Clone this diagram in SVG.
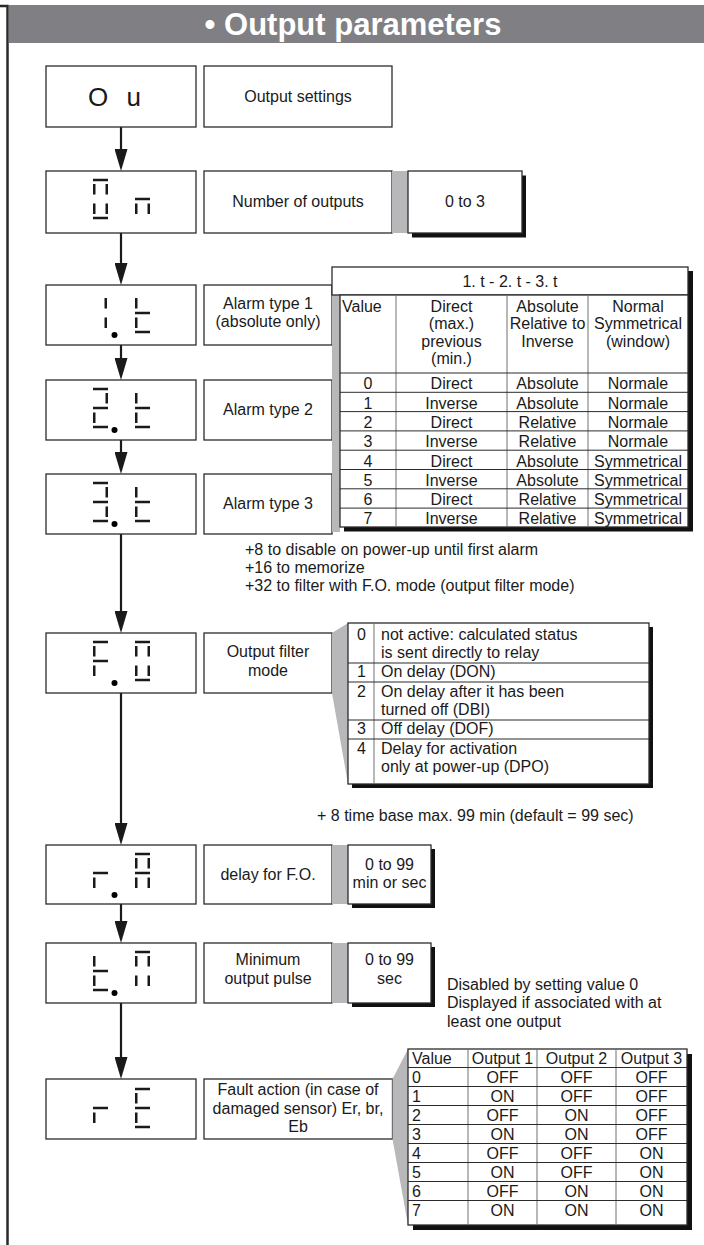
<svg xmlns="http://www.w3.org/2000/svg" xmlns:xlink="http://www.w3.org/1999/xlink" width="704" height="1245" viewBox="0 0 704 1245">
  <style>
    text { font-family: "Liberation Sans", Arial, Helvetica, sans-serif; font-size: 16px; fill: #1a1a1a; }
    .c { text-anchor: middle; }
    .title { font-size: 31px; font-weight: bold; fill: #ffffff; }
    .code { font-size: 26px; }
    .box { fill: #ffffff; stroke: #2b2b2b; stroke-width: 1.3; }
    .shadow { fill: #111111; }
    .gray { fill: #b8b8bb; }
    .rule { stroke: #2b2b2b; stroke-width: 1; }
    .col { stroke: #707070; stroke-width: 1; }
    .seg { fill: #1a1a1a; }
    .conn { stroke: #1a1a1a; stroke-width: 2.2; fill: none; }
  </style>
  <defs>
    <marker id="arrowhead" markerUnits="userSpaceOnUse" markerWidth="22" markerHeight="13" refX="12" refY="6.5" orient="auto">
      <path d="M0,0 L22,6.5 L0,13 Z" fill="#1a1a1a"/>
    </marker>
    <!-- seven-segment display: single segments (top edge of the digit at y=0) -->
    <rect id="sa" class="seg" x="0" y="-1.25" width="15" height="2.5"/>
    <rect id="sg" class="seg" x="0" y="17.75" width="15" height="2.5"/>
    <rect id="sd" class="seg" x="0" y="36.75" width="15" height="2.5"/>
    <rect id="sf" class="seg" x="0" y="4" width="2.5" height="10.5"/>
    <rect id="se" class="seg" x="0" y="23.5" width="2.5" height="10.5"/>
    <rect id="sb" class="seg" x="12.5" y="4" width="2.5" height="10.5"/>
    <rect id="sc" class="seg" x="12.5" y="23.5" width="2.5" height="10.5"/>
    <!-- digit combinations -->
    <g id="lcd-O"><use xlink:href="#sa"/><use xlink:href="#sb"/><use xlink:href="#sc"/><use xlink:href="#sd"/><use xlink:href="#se"/><use xlink:href="#sf"/></g>
    <g id="lcd-n"><use xlink:href="#sg"/><use xlink:href="#se"/><use xlink:href="#sc"/></g>
    <g id="lcd-1"><use xlink:href="#sb"/><use xlink:href="#sc"/></g>
    <g id="lcd-t"><use xlink:href="#sf"/><use xlink:href="#sg"/><use xlink:href="#se"/><use xlink:href="#sd"/></g>
    <g id="lcd-2"><use xlink:href="#sa"/><use xlink:href="#sb"/><use xlink:href="#sg"/><use xlink:href="#se"/><use xlink:href="#sd"/></g>
    <g id="lcd-3"><use xlink:href="#sa"/><use xlink:href="#sb"/><use xlink:href="#sg"/><use xlink:href="#sc"/><use xlink:href="#sd"/></g>
    <g id="lcd-F"><use xlink:href="#sa"/><use xlink:href="#sf"/><use xlink:href="#sg"/><use xlink:href="#se"/></g>
    <g id="lcd-r"><use xlink:href="#sg"/><use xlink:href="#se"/></g>
    <g id="lcd-A"><use xlink:href="#sa"/><use xlink:href="#sb"/><use xlink:href="#sc"/><use xlink:href="#se"/><use xlink:href="#sf"/><use xlink:href="#sg"/></g>
    <g id="lcd-M"><use xlink:href="#sa"/><use xlink:href="#sb"/><use xlink:href="#sc"/><use xlink:href="#se"/><use xlink:href="#sf"/></g>
    <g id="lcd-E"><use xlink:href="#sa"/><use xlink:href="#sf"/><use xlink:href="#sg"/><use xlink:href="#se"/><use xlink:href="#sd"/></g>
  </defs>

  <rect width="704" height="1245" fill="#ffffff"/>

  <!-- page frame and heading band -->
  <g id="frame">
    <path d="M0,6 H7.5 V1245" fill="none" stroke="#2a2a2a" stroke-width="2.5"/>
    <rect x="9" y="5" width="695" height="38" fill="#808084"/>
    <text class="title c" x="353" y="35">• Output parameters</text>
  </g>

  <!-- connectors -->
  <g id="connectors">
    <line class="conn" x1="121" y1="127" x2="121" y2="161" marker-end="url(#arrowhead)"/>
    <line class="conn" x1="121" y1="233" x2="121" y2="275" marker-end="url(#arrowhead)"/>
    <line class="conn" x1="121" y1="345" x2="121" y2="370" marker-end="url(#arrowhead)"/>
    <line class="conn" x1="121" y1="440" x2="121" y2="464" marker-end="url(#arrowhead)"/>
    <line class="conn" x1="121" y1="534" x2="121" y2="623" marker-end="url(#arrowhead)"/>
    <line class="conn" x1="121" y1="693" x2="121" y2="835" marker-end="url(#arrowhead)"/>
    <line class="conn" x1="121" y1="904" x2="121" y2="933" marker-end="url(#arrowhead)"/>
    <line class="conn" x1="121" y1="1003" x2="121" y2="1069" marker-end="url(#arrowhead)"/>
  </g>

  <!-- Ou : output settings -->
  <g id="node-ou">
    <rect class="box" x="46" y="66" width="150" height="61"/>
    <text class="code" x="88" y="106" word-spacing="11">O u</text>
    <rect class="box" x="204" y="66" width="188" height="61"/>
    <text class="c" x="298" y="102">Output settings</text>
  </g>

  <!-- On : number of outputs -->
  <g id="node-on">
    <rect class="box" x="46" y="171" width="150" height="62"/>
    <use xlink:href="#lcd-O" x="93" y="180"/>
    <use xlink:href="#lcd-n" x="135" y="180"/>
    <rect class="box" x="204" y="171" width="188" height="62"/>
    <text class="c" x="298" y="207">Number of outputs</text>
    <rect class="gray" x="392" y="171" width="16" height="62"/>
    <rect class="shadow" x="412" y="175.5" width="114" height="62"/>
    <rect class="box" x="408" y="171" width="114" height="62"/>
    <text class="c" x="465" y="207">0 to 3</text>
  </g>

  <!-- 1.t : alarm type 1 -->
  <g id="node-1t">
    <rect class="box" x="46" y="285" width="150" height="60"/>
    <use xlink:href="#lcd-1" x="92" y="294"/>
    <circle cx="114.5" cy="335" r="3"/>
    <use xlink:href="#lcd-t" x="135" y="294"/>
    <rect class="box" x="204" y="285" width="128" height="60"/>
    <text class="c" x="268" y="309">Alarm type 1</text>
    <text class="c" x="268" y="327">(absolute only)</text>
  </g>

  <!-- 2.t : alarm type 2 -->
  <g id="node-2t">
    <rect class="box" x="46" y="380" width="150" height="60"/>
    <use xlink:href="#lcd-2" x="93" y="389"/>
    <circle cx="114.5" cy="430" r="3"/>
    <use xlink:href="#lcd-t" x="135" y="389"/>
    <rect class="box" x="204" y="380" width="128" height="60"/>
    <text class="c" x="268" y="415">Alarm type 2</text>
  </g>

  <!-- 3.t : alarm type 3 -->
  <g id="node-3t">
    <rect class="box" x="46" y="474" width="150" height="60"/>
    <use xlink:href="#lcd-3" x="93" y="483"/>
    <circle cx="114.5" cy="524" r="3"/>
    <use xlink:href="#lcd-t" x="135" y="483"/>
    <rect class="box" x="204" y="474" width="128" height="60"/>
    <text class="c" x="268" y="509">Alarm type 3</text>
  </g>

  <!-- alarm type value table -->
  <g id="table-alarm">
    <rect class="shadow" x="344" y="271" width="349" height="260.5"/>
    <rect class="gray" x="332" y="295" width="8" height="237"/>
    <rect class="box" x="332" y="267" width="356" height="28"/>
    <text class="c" x="510" y="287">1. t - 2. t - 3. t</text>
    <rect class="box" x="340" y="295" width="348" height="232"/>
    <line class="col" x1="396" y1="295" x2="396" y2="527"/>
    <line class="col" x1="507" y1="295" x2="507" y2="527"/>
    <line class="col" x1="588" y1="295" x2="588" y2="527"/>
    <line class="rule" x1="340" y1="373" x2="688" y2="373"/>
    <line class="rule" x1="340" y1="392.3" x2="688" y2="392.3"/>
    <line class="rule" x1="340" y1="411.6" x2="688" y2="411.6"/>
    <line class="rule" x1="340" y1="430.9" x2="688" y2="430.9"/>
    <line class="rule" x1="340" y1="450.2" x2="688" y2="450.2"/>
    <line class="rule" x1="340" y1="469.5" x2="688" y2="469.5"/>
    <line class="rule" x1="340" y1="488.8" x2="688" y2="488.8"/>
    <line class="rule" x1="340" y1="508.1" x2="688" y2="508.1"/>
    <text x="342" y="312">Value</text>
    <text class="c" x="451.5" y="312">Direct</text>
    <text class="c" x="451.5" y="329">(max.)</text>
    <text class="c" x="451.5" y="346.5">previous</text>
    <text class="c" x="451.5" y="364">(min.)</text>
    <text class="c" x="547.5" y="312">Absolute</text>
    <text class="c" x="547.5" y="329">Relative to</text>
    <text class="c" x="547.5" y="346.5">Inverse</text>
    <text class="c" x="638" y="312">Normal</text>
    <text class="c" x="638" y="329">Symmetrical</text>
    <text class="c" x="638" y="346.5">(window)</text>
    <g class="rows">
      <text class="c" x="368" y="389.3">0</text><text class="c" x="451.5" y="389.3">Direct</text><text class="c" x="547.5" y="389.3">Absolute</text><text class="c" x="638" y="389.3">Normale</text>
      <text class="c" x="368" y="408.6">1</text><text class="c" x="451.5" y="408.6">Inverse</text><text class="c" x="547.5" y="408.6">Absolute</text><text class="c" x="638" y="408.6">Normale</text>
      <text class="c" x="368" y="427.9">2</text><text class="c" x="451.5" y="427.9">Direct</text><text class="c" x="547.5" y="427.9">Relative</text><text class="c" x="638" y="427.9">Normale</text>
      <text class="c" x="368" y="447.2">3</text><text class="c" x="451.5" y="447.2">Inverse</text><text class="c" x="547.5" y="447.2">Relative</text><text class="c" x="638" y="447.2">Normale</text>
      <text class="c" x="368" y="466.5">4</text><text class="c" x="451.5" y="466.5">Direct</text><text class="c" x="547.5" y="466.5">Absolute</text><text class="c" x="638" y="466.5">Symmetrical</text>
      <text class="c" x="368" y="485.8">5</text><text class="c" x="451.5" y="485.8">Inverse</text><text class="c" x="547.5" y="485.8">Absolute</text><text class="c" x="638" y="485.8">Symmetrical</text>
      <text class="c" x="368" y="505.1">6</text><text class="c" x="451.5" y="505.1">Direct</text><text class="c" x="547.5" y="505.1">Relative</text><text class="c" x="638" y="505.1">Symmetrical</text>
      <text class="c" x="368" y="524.4">7</text><text class="c" x="451.5" y="524.4">Inverse</text><text class="c" x="547.5" y="524.4">Relative</text><text class="c" x="638" y="524.4">Symmetrical</text>
    </g>
  </g>

  <g id="note-alarm">
    <text x="245" y="555">+8 to disable on power-up until first alarm</text>
    <text x="245" y="573">+16 to memorize</text>
    <text x="245" y="591">+32 to filter with F.O. mode (output filter mode)</text>
  </g>

  <!-- F.O : output filter mode -->
  <g id="node-fo">
    <rect class="box" x="46" y="633" width="150" height="60"/>
    <use xlink:href="#lcd-F" x="93" y="642"/>
    <circle cx="114.5" cy="683" r="3"/>
    <use xlink:href="#lcd-O" x="135" y="642"/>
    <rect class="box" x="204" y="633" width="128" height="60"/>
    <text class="c" x="268" y="657">Output filter</text>
    <text class="c" x="268" y="676">mode</text>
  </g>

  <g id="table-filter">
    <polygon class="gray" points="332,633 348,623 348,784 332,693"/>
    <rect class="shadow" x="352" y="627" width="301" height="161"/>
    <rect class="box" x="348" y="623" width="301" height="161"/>
    <line class="col" x1="374" y1="623" x2="374" y2="784"/>
    <line class="rule" x1="348" y1="663" x2="649" y2="663"/>
    <line class="rule" x1="348" y1="682" x2="649" y2="682"/>
    <line class="rule" x1="348" y1="720" x2="649" y2="720"/>
    <line class="rule" x1="348" y1="739" x2="649" y2="739"/>
    <text class="c" x="361.5" y="640">0</text>
    <text x="381" y="640">not active: calculated status</text>
    <text x="381" y="658">is sent directly to relay</text>
    <text class="c" x="361.5" y="677">1</text>
    <text x="381" y="677">On delay (DON)</text>
    <text class="c" x="361.5" y="697">2</text>
    <text x="381" y="697">On delay after it has been</text>
    <text x="381" y="715">turned off (DBI)</text>
    <text class="c" x="361.5" y="734">3</text>
    <text x="381" y="734">Off delay (DOF)</text>
    <text class="c" x="361.5" y="754">4</text>
    <text x="381" y="754">Delay for activation</text>
    <text x="381" y="772">only at power-up (DPO)</text>
  </g>

  <g id="note-filter">
    <text x="317" y="821">+ 8 time base max. 99 min (default = 99 sec)</text>
  </g>

  <!-- r.A : delay for F.O. -->
  <g id="node-ra">
    <rect class="box" x="46" y="845" width="150" height="59"/>
    <use xlink:href="#lcd-r" x="93" y="854"/>
    <circle cx="114.5" cy="895" r="3"/>
    <use xlink:href="#lcd-A" x="135" y="854"/>
    <rect class="box" x="204" y="845" width="128" height="59"/>
    <text class="c" x="268" y="880">delay for F.O.</text>
    <rect class="gray" x="332" y="845" width="16" height="59"/>
    <rect class="shadow" x="352" y="849" width="83" height="59"/>
    <rect class="box" x="348" y="845" width="83" height="59"/>
    <text class="c" x="389.5" y="870">0 to 99</text>
    <text class="c" x="389.5" y="888">min or sec</text>
  </g>

  <!-- t.M : minimum output pulse -->
  <g id="node-tm">
    <rect class="box" x="46" y="943" width="150" height="60"/>
    <use xlink:href="#lcd-t" x="93" y="952"/>
    <circle cx="114.5" cy="993" r="3"/>
    <use xlink:href="#lcd-M" x="135" y="952"/>
    <rect class="box" x="204" y="943" width="128" height="60"/>
    <text class="c" x="268" y="965">Minimum</text>
    <text class="c" x="268" y="984">output pulse</text>
    <rect class="gray" x="332" y="943" width="16" height="60"/>
    <rect class="shadow" x="352" y="947" width="83" height="60"/>
    <rect class="box" x="348" y="943" width="83" height="60"/>
    <text class="c" x="389.5" y="965">0 to 99</text>
    <text class="c" x="389.5" y="984">sec</text>
  </g>

  <g id="note-pulse">
    <text x="447" y="990">Disabled by setting value 0</text>
    <text x="447" y="1008">Displayed if associated with at</text>
    <text x="447" y="1027">least one output</text>
  </g>

  <!-- rE : fault action -->
  <g id="node-re">
    <rect class="box" x="46" y="1079" width="150" height="60"/>
    <use xlink:href="#lcd-r" x="93" y="1089"/>
    <use xlink:href="#lcd-E" x="135" y="1089"/>
    <rect class="box" x="204" y="1079" width="188.5" height="60"/>
    <text class="c" x="298" y="1095">Fault action (in case of</text>
    <text class="c" x="298" y="1114">damaged sensor) Er, br,</text>
    <text class="c" x="298" y="1132">Eb</text>
  </g>

  <g id="table-fault">
    <polygon class="gray" points="392.5,1079 408,1049 408,1225 392.5,1139"/>
    <rect class="shadow" x="413" y="1054" width="279" height="176"/>
    <rect class="box" x="408" y="1049" width="279" height="176"/>
    <line class="col" x1="468" y1="1049" x2="468" y2="1225"/>
    <line class="col" x1="537" y1="1049" x2="537" y2="1225"/>
    <line class="col" x1="616" y1="1049" x2="616" y2="1225"/>
    <line class="rule" x1="408" y1="1067.5" x2="687" y2="1067.5"/>
    <line class="rule" x1="408" y1="1086.5" x2="687" y2="1086.5"/>
    <line class="rule" x1="408" y1="1105.5" x2="687" y2="1105.5"/>
    <line class="rule" x1="408" y1="1124.5" x2="687" y2="1124.5"/>
    <line class="rule" x1="408" y1="1143.5" x2="687" y2="1143.5"/>
    <line class="rule" x1="408" y1="1162.5" x2="687" y2="1162.5"/>
    <line class="rule" x1="408" y1="1181.5" x2="687" y2="1181.5"/>
    <line class="rule" x1="408" y1="1200.5" x2="687" y2="1200.5"/>
    <text x="412" y="1064">Value</text>
    <text class="c" x="502.5" y="1064">Output 1</text>
    <text class="c" x="576.5" y="1064">Output 2</text>
    <text class="c" x="651.5" y="1064">Output 3</text>
    <text x="412" y="1082.5">0</text><text class="c" x="502.5" y="1082.5">OFF</text><text class="c" x="576.5" y="1082.5">OFF</text><text class="c" x="651.5" y="1082.5">OFF</text>
    <text x="412" y="1101.5">1</text><text class="c" x="502.5" y="1101.5">ON</text><text class="c" x="576.5" y="1101.5">OFF</text><text class="c" x="651.5" y="1101.5">OFF</text>
    <text x="412" y="1120.5">2</text><text class="c" x="502.5" y="1120.5">OFF</text><text class="c" x="576.5" y="1120.5">ON</text><text class="c" x="651.5" y="1120.5">OFF</text>
    <text x="412" y="1139.5">3</text><text class="c" x="502.5" y="1139.5">ON</text><text class="c" x="576.5" y="1139.5">ON</text><text class="c" x="651.5" y="1139.5">OFF</text>
    <text x="412" y="1158.5">4</text><text class="c" x="502.5" y="1158.5">OFF</text><text class="c" x="576.5" y="1158.5">OFF</text><text class="c" x="651.5" y="1158.5">ON</text>
    <text x="412" y="1177.5">5</text><text class="c" x="502.5" y="1177.5">ON</text><text class="c" x="576.5" y="1177.5">OFF</text><text class="c" x="651.5" y="1177.5">ON</text>
    <text x="412" y="1196.5">6</text><text class="c" x="502.5" y="1196.5">OFF</text><text class="c" x="576.5" y="1196.5">ON</text><text class="c" x="651.5" y="1196.5">ON</text>
    <text x="412" y="1215.5">7</text><text class="c" x="502.5" y="1215.5">ON</text><text class="c" x="576.5" y="1215.5">ON</text><text class="c" x="651.5" y="1215.5">ON</text>
  </g>
</svg>
